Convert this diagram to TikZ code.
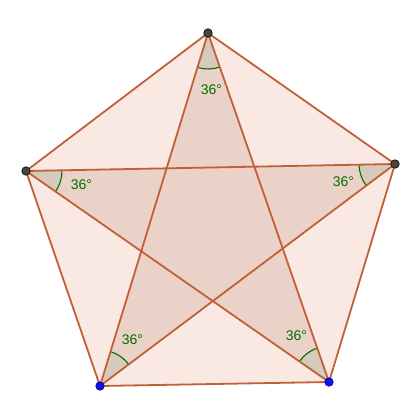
\documentclass[tikz,border=0pt]{standalone}
\usepackage{fontspec}
\setmainfont{Liberation Sans}
\usetikzlibrary{angles}

\definecolor{edgebrown}{RGB}{192,96,56}
\definecolor{outerfill}{RGB}{250,233,227}
\definecolor{starfill}{RGB}{235,210,200}
\definecolor{anglefill}{RGB}{214,202,188}
\definecolor{anglegreen}{RGB}{0,110,0}
\definecolor{dotgray}{RGB}{70,70,70}
\definecolor{dotblue}{RGB}{10,20,230}

\tikzstyle{edge} = [draw=edgebrown, line width=1.8pt, line join=round]
\tikzstyle{sector} = [draw=anglegreen, line width=1.1pt, fill=anglefill, angle radius=36pt]
\tikzstyle{anglelabel} = [text=anglegreen, font=\fontsize{14}{16}\selectfont, inner sep=0pt]
\tikzstyle{graydot} = [circle, fill=dotgray, draw=black, line width=0.6pt, minimum size=8.5pt, inner sep=0pt]
\tikzstyle{bluedot} = [circle, fill=dotblue, draw=blue!60!black, line width=0.6pt, minimum size=8.5pt, inner sep=0pt]

\begin{document}
\begin{tikzpicture}[x=1pt, y=-1pt]

\useasboundingbox (0,0) rectangle (406,406);

\coordinate (T) at (208,33);
\coordinate (L) at (26,171);
\coordinate (R) at (395,164);
\coordinate (BL) at (100,386);
\coordinate (BR) at (329,382);

\fill[outerfill] (T) -- (L) -- (BL) -- (BR) -- (R) -- cycle;
\fill[starfill, nonzero rule] (T) -- (BL) -- (R) -- (L) -- (BR) -- cycle;

\pic [sector] {angle = BL--T--BR};
\pic [sector] {angle = BR--L--R};
\pic [sector] {angle = L--R--BL};
\pic [sector] {angle = R--BL--T};
\pic [sector] {angle = T--BR--L};

\draw[edge] (T) -- (L) -- (BL) -- (BR) -- (R) -- cycle;
\draw[edge] (T) -- (BL);
\draw[edge] (T) -- (BR);
\draw[edge] (L) -- (R);
\draw[edge] (L) -- (BR);
\draw[edge] (R) -- (BL);

\node (dotT) [graydot] at (T) {};
\node (dotL) [graydot] at (L) {};
\node (dotR) [graydot] at (R) {};
\node (dotBL) [bluedot] at (BL) {};
\node (dotBR) [bluedot] at (BR) {};

\node (labelT) [anglelabel] at (211.5,90) {36°};
\node (labelL) [anglelabel] at (81.5,185) {36°};
\node (labelR) [anglelabel] at (343.5,181.5) {36°};
\node (labelBL) [anglelabel] at (132.5,340) {36°};
\node (labelBR) [anglelabel] at (296.5,335.5) {36°};

\end{tikzpicture}
\end{document}
